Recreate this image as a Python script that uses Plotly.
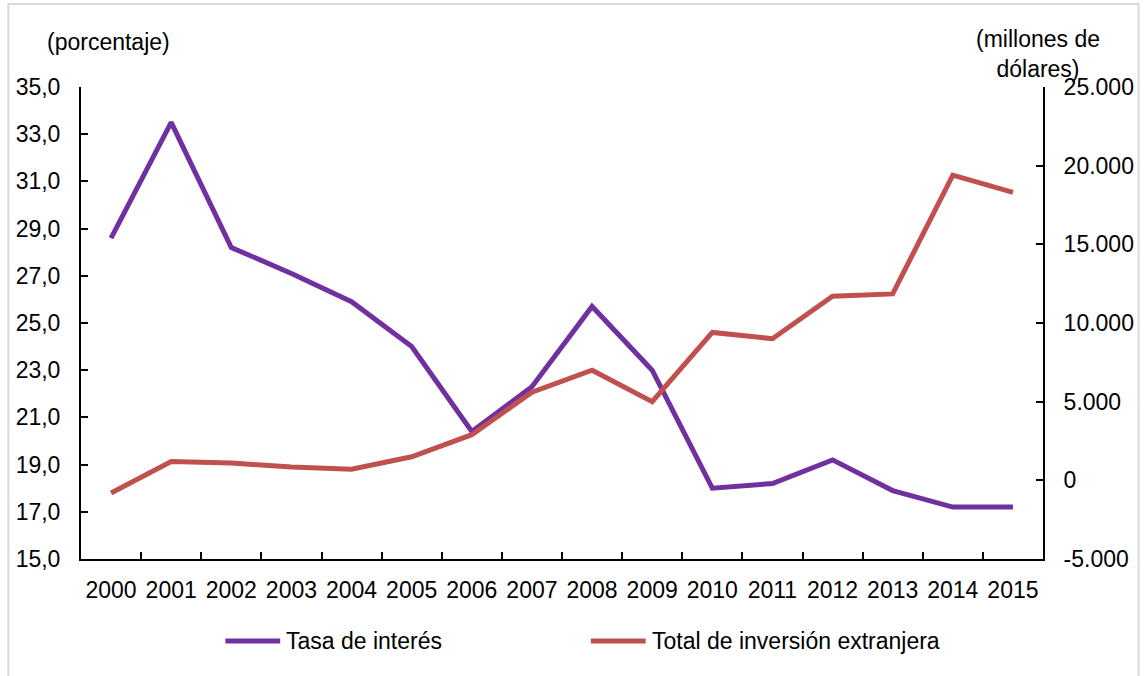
import plotly.graph_objects as go

# Series values
years = ["2000", "2001", "2002", "2003", "2004", "2005", "2006", "2007",
         "2008", "2009", "2010", "2011", "2012", "2013", "2014", "2015"]
tasa_interes = [28.6, 33.5, 28.2, 27.1, 25.9, 24.0, 20.4, 22.3,
                25.7, 23.0, 18.0, 18.2, 19.2, 17.9, 17.2, 17.2]
inversion_extranjera = [-800, 1200, 1100, 850, 700, 1500, 2900, 5600,
                        7000, 5000, 9400, 9000, 11700, 11850, 19400, 18300]

# Axis ticks
left_tickvals = [15, 17, 19, 21, 23, 25, 27, 29, 31, 33, 35]
left_ticktext = ["15,0", "17,0", "19,0", "21,0", "23,0", "25,0",
                 "27,0", "29,0", "31,0", "33,0", "35,0"]
right_tickvals = [-5000, 0, 5000, 10000, 15000, 20000, 25000]
right_ticktext = ["-5.000", "0", "5.000", "10.000", "15.000", "20.000", "25.000"]

series_names = ["Tasa de interés", "Total de inversión extranjera"]
series_colors = ["#7030A0", "#C0504D"]

FONT = "Liberation Sans, Arial, sans-serif"
FS = 23
W, H = 1146, 676
L, R, T, B = 81, 99, 87, 117
PW, PH = W - L - R, H - T - B


def px_x(x):
    return (x - L) / PW


def px_y(y):
    return (H - B - y) / PH


fig = go.Figure()
fig.add_trace(go.Scatter(
    x=years, y=tasa_interes, name=series_names[0], mode="lines",
    line=dict(color=series_colors[0], width=5), yaxis="y", showlegend=False))
fig.add_trace(go.Scatter(
    x=years, y=inversion_extranjera, name=series_names[1], mode="lines",
    line=dict(color=series_colors[1], width=5), yaxis="y2", showlegend=False))

axis_common = dict(showgrid=False, zeroline=False, showline=True,
                   linecolor="black", linewidth=2, ticks="inside",
                   ticklen=7, tickwidth=1.5, tickcolor="black",
                   tickfont=dict(family=FONT, size=FS, color="black"))

fig.update_layout(
    width=W, height=H,
    margin=dict(l=L, r=R, t=T, b=B),
    paper_bgcolor="white", plot_bgcolor="white",
    font=dict(family=FONT, size=FS, color="black"),
    xaxis=dict(type="category", tickson="boundaries", tickangle=0,
               range=[-0.5, len(years) - 0.5], ticklabelstandoff=9,
               **axis_common),
    yaxis=dict(range=[15, 35], tickmode="array", tickvals=left_tickvals,
               ticktext=left_ticktext, ticklabelstandoff=14, **axis_common),
    yaxis2=dict(range=[-5000, 25000], overlaying="y", side="right",
                tickmode="array", tickvals=right_tickvals,
                ticktext=right_ticktext, ticklabelstandoff=14, **axis_common),
    showlegend=False,
)

# Outer frame
fig.add_shape(type="rect", xref="paper", yref="paper",
              x0=px_x(8), x1=px_x(1143), y0=px_y(690), y1=px_y(4),
              line=dict(color="#D9D9D9", width=2), fillcolor="rgba(0,0,0,0)",
              layer="below")

# Axis titles
fig.add_annotation(text="(porcentaje)", xref="paper", yref="paper",
                   x=px_x(109), y=px_y(42), showarrow=False,
                   xanchor="center", yanchor="middle",
                   font=dict(family=FONT, size=FS, color="black"))
fig.add_annotation(text="(millones de<br>dólares)", xref="paper", yref="paper",
                   x=px_x(1042), y=px_y(54), showarrow=False,
                   xanchor="center", yanchor="middle", align="center",
                   font=dict(family=FONT, size=FS, color="black"))

# Legend
legend_items = [(226, 281, 285), (593, 648, 652)]
for (lx0, lx1, tx), name, color in zip(legend_items, series_names, series_colors):
    fig.add_shape(type="line", xref="paper", yref="paper",
                  x0=px_x(lx0), x1=px_x(lx1), y0=px_y(641), y1=px_y(641),
                  line=dict(color=color, width=5))
    fig.add_annotation(text=name, xref="paper", yref="paper",
                       x=px_x(tx), y=px_y(641), showarrow=False,
                       xanchor="left", yanchor="middle",
                       font=dict(family=FONT, size=FS, color="black"))

fig.write_html("out.html")
